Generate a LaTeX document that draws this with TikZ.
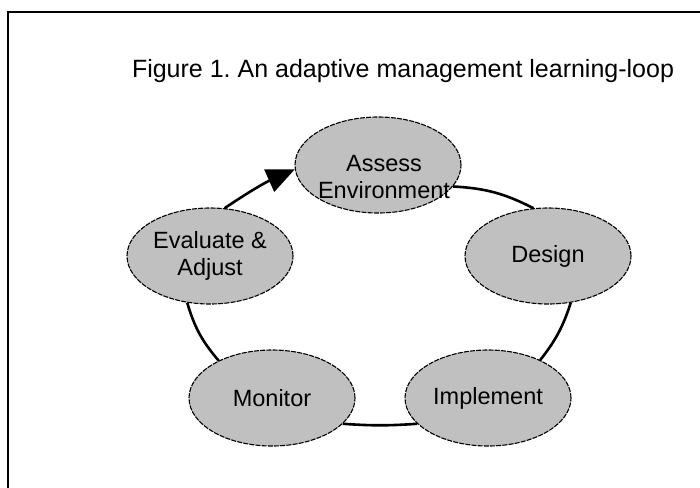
\documentclass[tikz,border=0pt]{standalone}
\usepackage{fontspec}
\setmainfont{Liberation Sans}
\usetikzlibrary{shapes.geometric,arrows.meta}
\definecolor{stagefill}{HTML}{C0C0C0}
\tikzset{
  stagefont/.style={font=\fontsize{23.5}{27}\selectfont},
  stage/.style={ellipse, draw=black, fill=stagefill, line width=1.1pt,
    dash pattern=on 5pt off 1.2pt, minimum width=166pt, minimum height=96pt,
    inner sep=0pt, align=center, stagefont},
  stagetext/.style={inner sep=0pt, align=center, stagefont},
  loopline/.style={draw=black, line width=2.6pt},
}
\begin{document}
\frenchspacing
\begin{tikzpicture}[x=1pt,y=-1pt]
  \useasboundingbox (0,0) rectangle (700,487);
  \fill[white] (0,0) rectangle (700,487);
  % frame, running off the right and bottom edges
  \begin{scope}
    \clip (0,0) rectangle (700,487);
    \draw[line width=2pt] (8,500) -- (8,12) -- (710,12);
  \end{scope}
  % caption
  \node[font=\fontsize{25}{30}\selectfont, anchor=base] (title) at (403,77)
    {Figure 1. An adaptive management learning-loop};
  % stages of the loop
  \node[stage] (assess) at (378,165) {};
  \node[stagetext] (assesslabel) at ([shift={(6,12)}]assess.center) {Assess\\Environment};
  \node[stage] (design) at (548,256) {Design};
  \node[stage] (implement) at (488,398) {Implement};
  \node[stage] (monitor) at (272,398) {Monitor};
  \node[stage] (evaluate) at (210,256) {Evaluate \&\\Adjust};
  % connectors
  \draw[loopline] (assess.-16) to[bend left=12] (design.107);
  \draw[loopline] (design.-64) to[bend left=10] (implement.36);
  \draw[loopline] (implement.200) to[bend left=4] (monitor.-20);
  \draw[loopline] (monitor.145) to[bend left=12] (evaluate.244);
  \draw[loopline, -{Triangle[length=28pt,width=24pt]}] (evaluate.73) to[bend left=5] (assess.183);
\end{tikzpicture}
\end{document}
